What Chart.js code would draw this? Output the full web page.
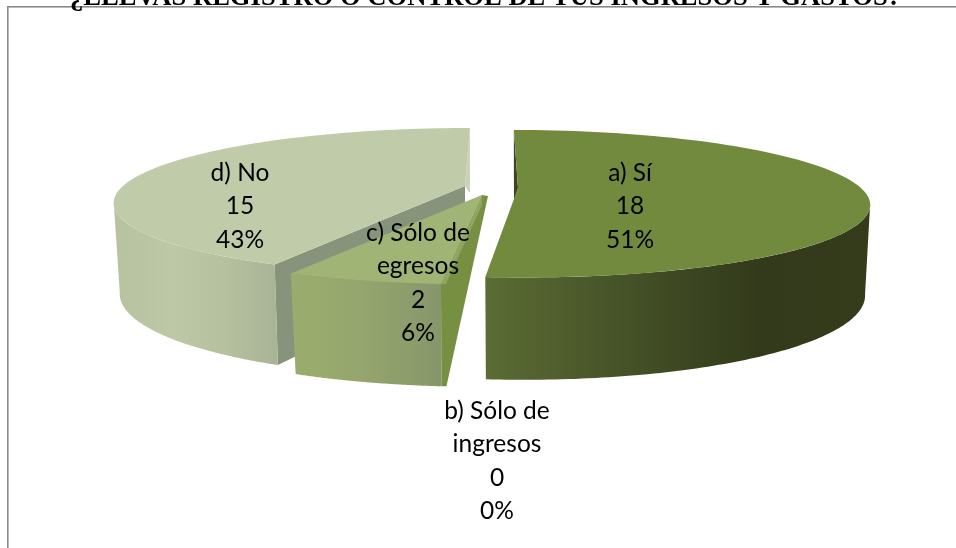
<!DOCTYPE html>
<html lang="es">
<head>
<meta charset="utf-8">
<title>Registro de ingresos y gastos</title>
<script src="https://cdn.jsdelivr.net/npm/chart.js@4"></script>
<style>
html,body{margin:0;padding:0;background:#fff;overflow:hidden}
canvas{display:block}
</style>
</head>
<body>
<canvas id="c" width="956" height="548"></canvas>
<script>
const chartTitle = '¿LLEVAS REGISTRO O CONTROL DE TUS INGRESOS Y GASTOS?';
const categories = ['a) Sí', 'b) Sólo de ingresos', 'c) Sólo de egresos', 'd) No'];
const counts = [18, 0, 2, 15];

const topColors = ['#718a3e', '#8fa85c', '#a0b575', '#c0cca9'];
const wallStops = [
  ['#5b6c34', '#434f26', '#323a1b', '#343c1c'],
  ['#8fa85c', '#8fa85c', '#8fa85c', '#8fa85c'],
  ['#9bad6d', '#97a86e', '#8f9f6c', '#87966a'],
  ['#b7c39f', '#bcc8a6', '#b5c09f', '#a9b497']
];
const wallAt = [[0, 0.4, 0.71, 1], [0, 0.35, 0.7, 1], [0, 0.35, 0.7, 1], [0, 0.35, 0.7, 1]];
const innerColors = ['#3b4520', '#768f41', '#768f41', '#88937b'];

// slice placement relative to the pie centre, and the perspective of the two planes
const sliceShift = [
  {dx: 40, dy: -86, skewTop: 5, skewBot: 5, wTop: 343, wBot: 338},
  {dx: 40, dy: -86, skewTop: 0, skewBot: 0, wTop: 343, wBot: 338},
  {dx: 4, dy: -79, skewTop: -0.5, skewBot: -1, wTop: 355, wBot: 345},
  {dx: -13, dy: -88, skewTop: -6, skewBot: -6, wTop: 342, wBot: 336}
];
const persp = 0.213, topDepth = 70.4, botDepth = 81.7, drop = 88;
const labelCenters = [[630, 173], [497, 411], [418, 233], [240, 173]];
const labelLine = 33.4;

function rim(s, arc, theta, bottom) {
  const X = Math.sin(theta), Y = -Math.cos(theta), d = 1 - persp * Y;
  const cx = arc.x + s.dx, cy = arc.y + s.dy + (bottom ? drop : 0);
  return [
    cx + ((bottom ? s.wBot : s.wTop) * X + (bottom ? s.skewBot : s.skewTop) * Y) / d,
    cy + (bottom ? botDepth : topDepth) * Y / d
  ];
}
function poly(ctx, pts, fill) {
  ctx.beginPath();
  pts.forEach((p, i) => i ? ctx.lineTo(p[0], p[1]) : ctx.moveTo(p[0], p[1]));
  ctx.closePath();
  ctx.fillStyle = fill;
  ctx.fill();
}
function arcPts(s, arc, a0, a1, bottom) {
  const pts = [], n = 90;
  for (let i = 0; i <= n; i++) pts.push(rim(s, arc, a0 + (a1 - a0) * i / n, bottom));
  return pts;
}

const pie3d = {
  id: 'pie3d',
  beforeDatasetsDraw(chart) {
    const ctx = chart.ctx, arcs = chart.getDatasetMeta(0).data;
    const limitA = Math.acos(-persp), limitB = 2 * Math.PI - limitA;
    [3, 2, 0].forEach(i => {
      const el = arcs[i], s = sliceShift[i];
      const arc = el.getProps(['x', 'y', 'startAngle', 'endAngle']);
      const t0 = arc.startAngle + Math.PI / 2, t1 = arc.endAngle + Math.PI / 2;
      const apex = [arc.x + s.dx, arc.y + s.dy];
      const top0 = rim(s, arc, t0, false), top1 = rim(s, arc, t1, false);
      const bot0 = rim(s, arc, t0, true);
      const apexBot = [apex[0], apex[1] + drop];

      // inner walls behind the outer wall
      if (i === 3) {
        poly(ctx, [top0, apex, apexBot, bot0], innerColors[3]);
        poly(ctx, [apex, top1, [top1[0], apex[1] + 6], [apex[0] + 4, apex[1] + 6]], '#c9d2ba');
      }
      if (i === 0) {
        poly(ctx, [top0, apex, [apex[0] - 4, apex[1] + 12], [top0[0], top0[1] + 40]], innerColors[0]);
      }

      // outer wall
      const w0 = Math.max(t0, limitA), w1 = Math.min(t1, limitB);
      const upper = arcPts(s, arc, w0, w1, false), lower = arcPts(s, arc, w0, w1, true).reverse();
      const xs = upper.concat(lower).map(p => p[0]);
      const g = ctx.createLinearGradient(Math.min(...xs), 0, Math.max(...xs), 0);
      wallStops[i].forEach((c, k) => g.addColorStop(wallAt[i][k], c));
      poly(ctx, upper.concat(lower), g);

      // inner wall of the small slice sits on the right of its front
      if (i === 2) {
        poly(ctx, [top0, apex, [apex[0] + 6, apex[1] + 1], [bot0[0] + 5, bot0[1]], bot0], innerColors[2]);
        poly(ctx, [top0, apex, [apex[0], apex[1] + 10], [top0[0] + 5, top0[1]]], '#8fa663');
      }

      // top face
      poly(ctx, [apex].concat(arcPts(s, arc, t0, t1, false)), topColors[i]);
    });
    return false;
  },
  afterDraw(chart) {
    const ctx = chart.ctx;
    const total = counts.reduce((a, b) => a + b, 0);
    ctx.save();
    // frame
    ctx.fillStyle = '#8a8a8a';
    ctx.fillRect(7, 6, 949, 1.6);
    ctx.fillRect(7, 6, 1.6, 542);
    // title
    ctx.fillStyle = '#000';
    ctx.textAlign = 'left';
    ctx.textBaseline = 'alphabetic';
    ctx.font = 'bold 26.6px "Liberation Serif", serif';
    ctx.fillText(chartTitle, 70, 4.5);
    // labels
    ctx.textAlign = 'center';
    ctx.textBaseline = 'middle';
    ctx.font = '24.5px Lato, sans-serif';
    categories.forEach((name, i) => {
      const lines = name.replace(' de ', ' de\n').split('\n');
      lines.push(String(counts[i]), Math.round(counts[i] / total * 100) + '%');
      lines.forEach((t, k) => ctx.fillText(t, labelCenters[i][0], labelCenters[i][1] + k * labelLine));
    });
    ctx.restore();
  }
};

new Chart(document.getElementById('c'), {
  type: 'pie',
  data: {labels: categories, datasets: [{data: counts, backgroundColor: topColors, borderWidth: 0}]},
  options: {
    responsive: false,
    animation: false,
    plugins: {legend: {display: false}, tooltip: {enabled: false}, title: {display: false}}
  },
  plugins: [pie3d]
});
</script>
</body>
</html>
